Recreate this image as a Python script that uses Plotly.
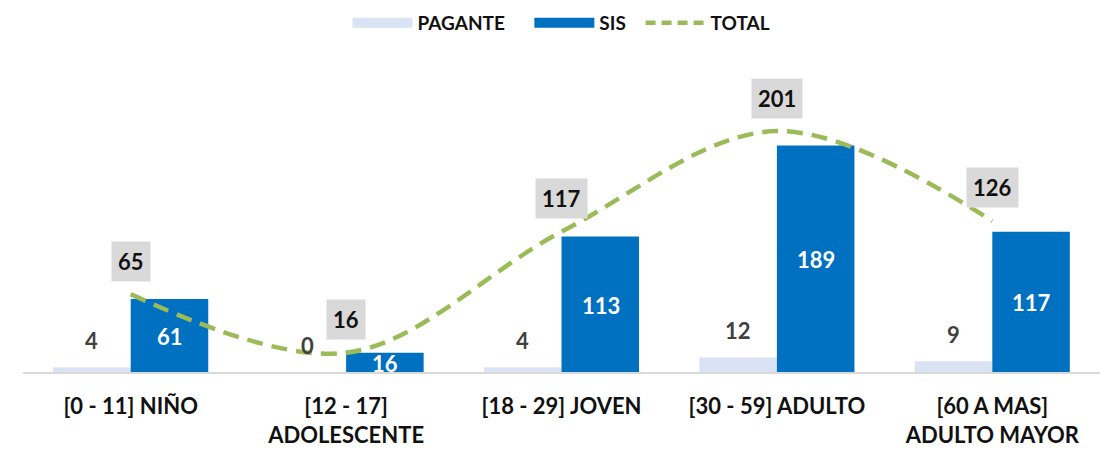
import plotly.graph_objects as go

categories = ["[0 - 11] NIÑO", "[12 - 17]<br>ADOLESCENTE", "[18 - 29] JOVEN", "[30 - 59] ADULTO", "[60 A MAS]<br>ADULTO MAYOR"]
pagante = [4, 0, 4, 12, 9]
sis = [61, 16, 113, 189, 117]
total = [65, 16, 117, 201, 126]

FONT = "Lato"
C_PAG = "#dae3f3"
C_SIS = "#0070c0"
C_TOT = "#9bbb59"

fig = go.Figure()
fig.add_trace(go.Bar(name="PAGANTE", x=categories, y=pagante, showlegend=False,
                     marker=dict(color=C_PAG, line=dict(width=0))))
fig.add_trace(go.Bar(name="SIS", x=categories, y=sis, showlegend=False,
                     marker=dict(color=C_SIS, line=dict(width=0))))
fig.add_trace(go.Scatter(name="TOTAL", x=categories, y=total, mode="lines", showlegend=False,
                         line=dict(color=C_TOT, width=4.5, dash="16px,9px", shape="spline", smoothing=1.0)))

# legend-only proxies (wide rectangles like the original)
NB = "\u00a0"
fig.add_trace(go.Scatter(name="<b>PAGANTE</b>" + NB * 4, x=[None], y=[None], mode="lines",
                         line=dict(color=C_PAG, width=13)))
fig.add_trace(go.Scatter(name="<b>SIS</b>" + NB * 2, x=[None], y=[None], mode="lines",
                         line=dict(color=C_SIS, width=13)))
fig.add_trace(go.Scatter(name="<b>TOTAL</b>", x=[None], y=[None], mode="lines",
                         line=dict(color=C_TOT, width=4.5, dash="10px,6px")))

ann = []
for i, c in enumerate(categories):
    ann.append(dict(x=c, y=pagante[i], xref="x", yref="y", text=f"<b>{pagante[i]}</b>", showarrow=False,
                    xshift=-39, yshift=27, font=dict(family=FONT, size=22, color="#404040")))
    ann.append(dict(x=c, y=sis[i] / 2, xref="x", yref="y", text=f"<b>{sis[i]}</b>", showarrow=False,
                    xshift=39, yshift=-1, font=dict(family=FONT, size=22, color="white")))
    ann.append(dict(x=c, y=total[i], xref="x", yref="y", text=f"<b>{total[i]}</b>", showarrow=False,
                    yshift=33, bgcolor="#d9d9d9", borderpad=6,
                    font=dict(family=FONT, size=22, color="#111111")))

# page body has an 8px margin; compensate so the plot lands where the original does
fig.update_layout(
    width=1107, height=443,
    margin=dict(l=15, r=15, t=32, b=79, autoexpand=False),
    plot_bgcolor="white", paper_bgcolor="white",
    barmode="group", bargap=0.28, bargroupgap=0,
    font=dict(family=FONT, color="#111111"),
    legend=dict(orientation="h", x=0.5, xanchor="center", y=1.0 + 17 / 332, yanchor="middle",
                font=dict(family=FONT, size=19, color="#111111"), traceorder="normal",
                itemwidth=60, tracegroupgap=0),
    annotations=ann,
)
fig.update_xaxes(showline=True, linecolor="#d9d9d9", linewidth=2, showgrid=False, ticks="",
                 tickfont=dict(family=FONT, size=22, color="#111111"), range=[-0.5, 4.5],
                 ticklabelstandoff=14,
                 tickvals=categories,
                 ticktext=[f"<b>{c.replace('<br>', '</b><br><b>')}</b>" for c in categories])
fig.update_yaxes(visible=False, range=[0, 277], showgrid=False, zeroline=False)

fig.write_html("out.html")
